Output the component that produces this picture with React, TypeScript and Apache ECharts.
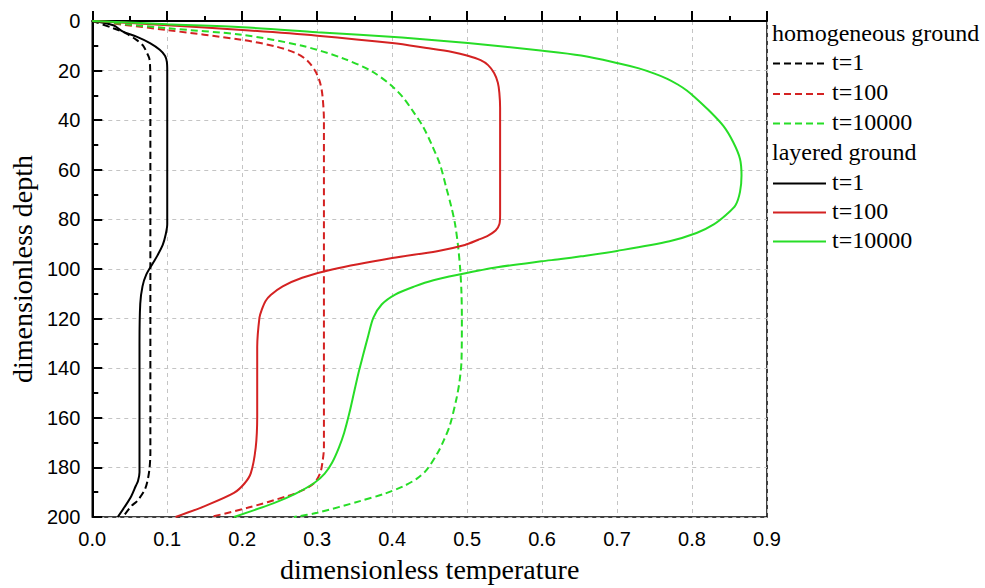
import React, { useEffect, useRef } from "react";
import * as echarts from "echarts";

// [dimensionless temperature, dimensionless depth]
const homT1: number[][] = [
  [0, 0], [0.028, 2.9], [0.045, 5], [0.059, 7.6], [0.068, 10], [0.072, 12.3], [0.076, 15], [0.077, 17.5],
  [0.0775, 25], [0.0775, 100], [0.0775, 174], [0.0765, 180], [0.074, 185], [0.07, 189], [0.06, 193.5],
  [0.052, 195.6], [0.041, 200],
];
const homT100: number[][] = [
  [0, 0], [0.098, 3.6], [0.2, 7.6], [0.245, 10.3], [0.272, 13], [0.287, 16], [0.298, 20.5], [0.304, 25],
  [0.307, 30], [0.309, 40], [0.309, 172], [0.307, 178], [0.304, 182.3], [0.296, 186.3], [0.28, 189.3],
  [0.26, 191.6], [0.207, 196.3], [0.158, 200],
];
const homT10000: number[][] = [
  [0, 0], [0.1, 2.9], [0.2, 5.6], [0.28, 10], [0.333, 14.9], [0.373, 20.3], [0.4, 26.3], [0.415, 31],
  [0.426, 35.6], [0.441, 42.5], [0.453, 50], [0.464, 58], [0.472, 67], [0.479, 75], [0.484, 82],
  [0.488, 91], [0.491, 101], [0.4925, 110], [0.493, 120], [0.4925, 137], [0.49, 145], [0.486, 152],
  [0.477, 163], [0.469, 169], [0.461, 174], [0.446, 181], [0.433, 184.5], [0.415, 187.6], [0.39, 190.6],
  [0.357, 193.6], [0.3, 198.3], [0.269, 200],
];
const layT1: number[][] = [
  [0, 0], [0.028, 1.7], [0.041, 4.3], [0.059, 6.3], [0.077, 8.9], [0.09, 11.6], [0.097, 14], [0.0995, 16.5],
  [0.1, 20], [0.1, 50], [0.1, 82], [0.098, 86], [0.094, 90.3], [0.087, 94.5], [0.081, 97.6], [0.072, 102.3],
  [0.067, 107], [0.064, 114], [0.063, 130], [0.063, 182], [0.061, 185.5], [0.058, 187.5], [0.052, 191.6],
  [0.043, 196], [0.034, 200],
];
const layT100: number[][] = [
  [0, 0], [0.1, 1.7], [0.2, 3.6], [0.3, 5.9], [0.4, 8.9], [0.446, 10.9], [0.48, 12.5], [0.501, 14],
  [0.518, 15.8], [0.528, 17.8], [0.536, 21], [0.541, 24.9], [0.543, 29], [0.544, 35], [0.544, 78],
  [0.543, 82], [0.538, 84.5], [0.528, 86.5], [0.515, 88.2], [0.497, 90.3], [0.46, 92.8], [0.4, 95.6],
  [0.32, 100.2], [0.28, 103.5], [0.254, 107], [0.238, 110.5], [0.231, 113], [0.226, 116.5],
  [0.223, 119.6], [0.22, 131.6], [0.22, 159.6], [0.218, 172], [0.2115, 182.3], [0.203, 186.5],
  [0.189, 190.3], [0.15, 195.6], [0.111, 200],
];
const layT10000: number[][] = [
  [0, 0], [0.1, 1.3], [0.2, 2.5], [0.3, 4.5], [0.413, 6.7], [0.501, 8.9], [0.601, 12], [0.652, 13.9],
  [0.7, 16.9], [0.728, 19], [0.75, 21.2], [0.767, 23.3], [0.781, 25.6], [0.793, 28], [0.804, 30.8],
  [0.822, 35.9], [0.842, 42.4], [0.855, 48.9], [0.864, 55.6], [0.866, 62.3], [0.864, 68.9],
  [0.858, 74.3], [0.846, 78], [0.829, 82], [0.806, 85.5], [0.77, 88.8], [0.7, 92.7], [0.652, 94.9],
  [0.625, 96], [0.599, 96.9], [0.54, 99.3], [0.488, 102.3], [0.455, 104.5], [0.43, 107], [0.404, 110.3],
  [0.386, 114.3], [0.375, 119.6], [0.368, 127], [0.361, 135], [0.355, 142], [0.349, 150], [0.343, 158],
  [0.336, 166], [0.329, 172], [0.32, 178], [0.31, 182.5], [0.296, 186.3], [0.27, 190.8], [0.243, 194.3],
  [0.189, 200],
];

const legendGroups = ["homogeneous ground", "layered ground"];
const timeLabels = ["t=1", "t=100", "t=10000"];
const colors = ["#000000", "#d42222", "#27dd27"];

const SERIF = "'Liberation Serif', 'Times New Roman', serif";
const SANS = "'Liberation Sans', Arial, sans-serif";
const DASH = [7, 4];

export default function App() {
  const ref = useRef<HTMLDivElement>(null);
  useEffect(() => {
    if (!ref.current) return;
    const chart = echarts.init(ref.current, null, { renderer: "svg" });
    const homData = [homT1, homT100, homT10000];
    const layData = [layT1, layT100, layT10000];
    const series: any[] = [];
    homData.forEach((d, i) =>
      series.push({
        name: legendGroups[0] + " " + timeLabels[i],
        type: "line",
        data: d,
        symbol: "none",
        smooth: 0.3,
        lineStyle: { color: colors[i], width: 2, type: DASH },
      })
    );
    layData.forEach((d, i) =>
      series.push({
        name: legendGroups[1] + " " + timeLabels[i],
        type: "line",
        data: d,
        symbol: "none",
        smooth: 0.3,
        lineStyle: { color: colors[i], width: 2, type: "solid" },
      })
    );

    const graphics: any[] = [];
    const rowY = [35, 63.5, 94, 123.5, 154, 183.5, 212.5, 241.5];
    let r = 0;
    legendGroups.forEach((g, gi) => {
      graphics.push({
        type: "text",
        left: 772,
        top: rowY[r] - 14,
        style: { text: g, font: `24px ${SERIF}`, fill: "#000" },
      });
      r++;
      timeLabels.forEach((t, ti) => {
        const y = rowY[r];
        graphics.push({
          type: "line",
          shape: { x1: 773, y1: y, x2: 826, y2: y },
          style: { stroke: colors[ti], lineWidth: 2, lineDash: gi === 0 ? DASH : null },
        });
        graphics.push({
          type: "text",
          left: 832,
          top: y - 14,
          style: { text: t, font: `24px ${SERIF}`, fill: "#000" },
        });
        r++;
      });
    });

    chart.setOption({
      animation: false,
      backgroundColor: "#fff",
      grid: {
        left: 89,
        right: 218,
        top: 21,
        bottom: 67,
        show: true,
        borderColor: "#000",
        borderWidth: 1.5,
        backgroundColor: "transparent",
      },
      xAxis: {
        type: "value",
        min: 0,
        max: 0.9,
        interval: 0.1,
        name: "dimensionless temperature",
        nameLocation: "middle",
        nameGap: 38,
        nameTextStyle: { fontFamily: SERIF, fontSize: 28, color: "#000" },
        axisLine: { show: true, lineStyle: { color: "#000", width: 2 } },
        axisTick: { show: true, inside: true, length: 10, lineStyle: { color: "#000", width: 2 } },
        minorTick: { show: true, splitNumber: 2, length: 5, lineStyle: { color: "#000", width: 2 } },
        axisLabel: {
          color: "#000",
          fontFamily: SANS,
          fontSize: 20,
          margin: 12,
          formatter: (v: number) => v.toFixed(1),
        },
        splitLine: { show: true, lineStyle: { color: "#c4c4c4", width: 1, type: [4, 4] } },
      },
      yAxis: {
        type: "value",
        inverse: true,
        min: 0,
        max: 200,
        interval: 20,
        name: "dimensionless depth",
        nameLocation: "middle",
        nameGap: 52,
        nameTextStyle: { fontFamily: SERIF, fontSize: 28, color: "#000" },
        axisLine: { show: true, lineStyle: { color: "#000", width: 2 } },
        axisTick: { show: true, inside: true, length: 10, lineStyle: { color: "#000", width: 2 } },
        minorTick: { show: true, splitNumber: 2, length: 6, lineStyle: { color: "#000", width: 2 } },
        axisLabel: { color: "#000", fontFamily: SANS, fontSize: 20, margin: 12 },
        splitLine: { show: true, lineStyle: { color: "#c4c4c4", width: 1, type: [4, 4] } },
      },
      series,
      graphic: graphics,
    });
    return () => chart.dispose();
  }, []);
  return (
    <div
      ref={ref}
      style={{ position: "fixed", left: 0, top: 0, width: 985, height: 588 }}
    />
  );
}
